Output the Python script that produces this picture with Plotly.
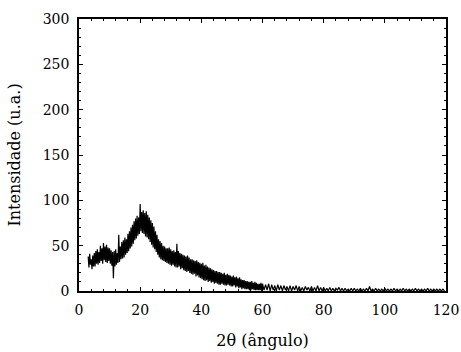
import numpy as np
import plotly.graph_objects as go

# Diffractogram, fine scan 3.00-59.75 deg (0.25 deg step)
scan_fine_start, scan_fine_step = 3.0, 0.25
intensity_fine = [
    38, 26, 41, 29,  35, 24, 39, 27,  42, 27, 44, 30,  46, 29, 43, 31,
    50, 33, 47, 30,  53, 34, 49, 32,  51, 31, 48, 33,  47, 30, 45, 28,
    43, 14, 44, 27,  46, 29, 42, 31,  62, 32, 49, 35,  54, 36, 56, 37,
    59, 40, 57, 42,  63, 44, 66, 47,  70, 49, 73, 52,  77, 56, 80, 58,
    83, 61, 81, 63,  96, 66, 87, 64,  89, 63, 86, 60,  88, 59, 84, 57,
    81, 54, 78, 51,  75, 48, 71, 46,  66, 43, 62, 40,  57, 37, 55, 35,
    53, 34, 50, 33,  49, 32, 47, 31,  47, 30, 48, 29,  46, 28, 44, 29,
    45, 27, 43, 26,  52, 26, 44, 27,  42, 24, 41, 25,  40, 23, 39, 22,
    38, 21, 39, 22,  37, 20, 35, 19,  35, 18, 34, 19,  33, 16, 34, 17,
    32, 15, 31, 14,  30, 13, 31, 12,  28, 11, 29, 12,  27, 10, 26, 11,
    25, 9, 24, 10,   23, 8, 22, 9,    22, 8, 21, 7,    21, 7, 20, 8,
    19, 7, 20, 6,    18, 6, 19, 7,    18, 6, 17, 5,    16, 5, 17, 6,
    15, 4, 16, 5,    14, 3, 15, 4,    13, 2, 12, 3,    12, 2, 11, 2,
    11, 2, 10, 1,    10, 1, 11, 2,    9, 1, 10, 1,     9, 1, 8, 1,
    8, 1, 9, 0,
]

# Coarse scan 60.0-119.5 deg (0.5 deg step)
scan_coarse_start, scan_coarse_step = 60.0, 0.5
intensity_coarse = [
    8, 1, 7, 1, 8, 0, 7, 1, 6, 0, 7, 1, 6, 0, 6, 1, 5, 0, 6, 0,
    5, 1, 6, 0, 5, 0, 4, 0, 5, 1, 4, 0, 5, 0, 4, 0, 6, 0, 4, 0,
    4, 0, 3, 0, 4, 0, 3, 0, 3, 1, 4, 0, 3, 0, 3, 0, 2, 0, 3, 0,
    3, 0, 2, 0, 3, 0, 2, 0, 3, 0, 5, 0, 2, 0, 3, 0, 2, 0, 2, 0,
    3, 0, 2, 0, 2, 0, 3, 0, 2, 0, 2, 0, 3, 0, 2, 0, 2, 0, 2, 0,
    3, 0, 2, 0, 2, 0, 2, 0, 3, 0, 2, 0, 2, 0, 2, 0, 2, 0, 2, 0,
]

x_ticks = [0, 20, 40, 60, 80, 100, 120]
y_ticks = [0, 50, 100, 150, 200, 250, 300]

two_theta = np.concatenate([
    scan_fine_start + scan_fine_step * np.arange(len(intensity_fine)),
    scan_coarse_start + scan_coarse_step * np.arange(len(intensity_coarse)),
])
intensity = np.array(intensity_fine + intensity_coarse, dtype=float)

fig = go.Figure(go.Scatter(
    x=two_theta, y=intensity, mode="lines",
    line=dict(color="black", width=1.2, simplify=False),
    showlegend=False,
))

tick_font = dict(family="DejaVu Serif", size=14, color="black")
title_font = dict(family="DejaVu Serif", size=16, color="black")
axis_common = dict(
    showline=True, linecolor="black", linewidth=1.5, mirror="allticks",
    ticks="inside", ticklen=4, tickwidth=1, tickcolor="black",
    showgrid=False, zeroline=False, tickfont=tick_font, automargin=False,
    ticklabelstandoff=5,
)

fig.update_xaxes(
    range=[0, 120], tickvals=x_ticks,
    minor=dict(dtick=4, tick0=0, ticks="inside", ticklen=2, tickcolor="black", showgrid=False),
    title=dict(text="2θ (ângulo)", font=title_font, standoff=18),
    **axis_common,
)
fig.update_yaxes(
    range=[0, 300], tickvals=y_ticks,
    minor=dict(dtick=10, tick0=0, ticks="inside", ticklen=2, tickcolor="black", showgrid=False),
    title=dict(text="Intensidade (u.a.)", font=title_font, standoff=18),
    **axis_common,
)

fig.update_layout(
    width=461, height=352,
    margin=dict(l=79, r=15, t=19, b=61),
    paper_bgcolor="white", plot_bgcolor="white",
    font=tick_font,
)

fig.write_html("out.html")
